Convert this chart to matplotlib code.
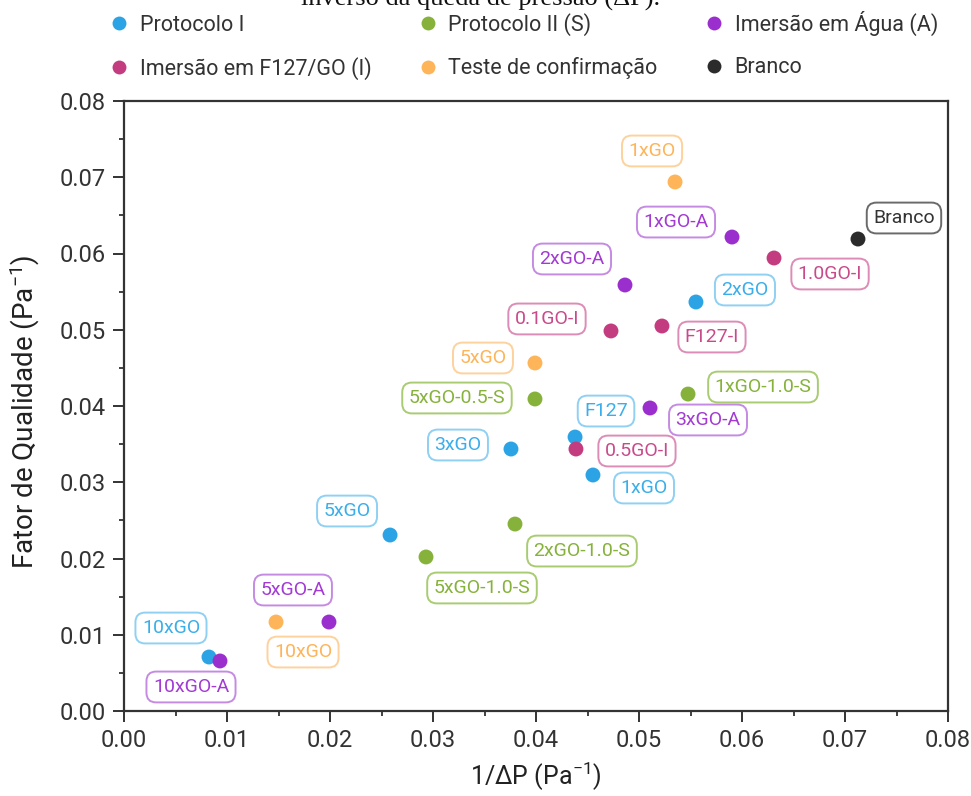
import matplotlib
matplotlib.use("Agg")
import matplotlib.pyplot as plt
from matplotlib.lines import Line2D

# ---- data: 1/ΔP (Pa^-1) vs quality factor (Pa^-1) ----
prot1_names = ["10xGO", "5xGO", "3xGO", "F127", "1xGO", "2xGO"]
prot1_x = [0.00825, 0.02583, 0.03757, 0.04379, 0.04553, 0.05553]
prot1_y = [0.00708, 0.02308, 0.03436, 0.03593, 0.03095, 0.05364]

prot2_names = ["5xGO-1.0-S", "2xGO-1.0-S", "5xGO-0.5-S", "1xGO-1.0-S"]
prot2_x = [0.02932, 0.03796, 0.03990, 0.05476]
prot2_y = [0.02020, 0.02452, 0.04092, 0.04157]

agua_names = ["10xGO-A", "5xGO-A", "3xGO-A", "2xGO-A", "1xGO-A"]
agua_x = [0.00932, 0.01990, 0.05107, 0.04864, 0.05903]
agua_y = [0.00656, 0.01167, 0.03974, 0.05587, 0.06216]

f127_names = ["0.5GO-I", "0.1GO-I", "F127-I", "1.0GO-I"]
f127_x = [0.04388, 0.04728, 0.05223, 0.06311]
f127_y = [0.03436, 0.04984, 0.05049, 0.05941]

conf_names = ["10xGO", "5xGO", "1xGO"]
conf_x = [0.01476, 0.03990, 0.05350]
conf_y = [0.01167, 0.04564, 0.06938]

branco_names = ["Branco"]
branco_x = [0.07126]
branco_y = [0.06190]

series_labels = ["Protocolo I", "Protocolo II (S)", "Imersão em Água (A)",
                 "Imersão em F127/GO (I)", "Teste de confirmação", "Branco"]

x_ticks = [0.00, 0.01, 0.02, 0.03, 0.04, 0.05, 0.06, 0.07, 0.08]
y_ticks = [0.00, 0.01, 0.02, 0.03, 0.04, 0.05, 0.06, 0.07, 0.08]

# ---- styling ----
# (marker colour, label text colour, label border colour)
styles = [
    ("#2ba3e4", "#3aaeea", "#8fd0f3"),
    ("#86b23c", "#86b23c", "#a9cc72"),
    ("#9a2fcd", "#a23ad3", "#c58be3"),
    ("#c43c80", "#c94a8a", "#dc8cb6"),
    ("#feb459", "#feb459", "#fdd29d"),
    ("#2b2b2b", "#333333", "#6a6a6a"),
]

# label offsets in pixels (dx right, dy up) for each series
offsets = [
    [(-38, 29), (-43, 24), (-53, 4), (31, 26), (51, -13), (49, 12)],
    [(56, -31), (67, -27), (-78, 1), (75, 7)],
    [(-29, -26), (-36, 32), (58, -12), (-53, 26), (-56, 15)],
    [(61, -2), (-64, 12), (50, -11), (56, -16)],
    [(27, -30), (-52, 5), (-23, 31)],
    [(46, 21)],
]

plt.rcParams["font.family"] = ["Roboto", "DejaVu Sans"]
plt.rcParams["mathtext.fontset"] = "custom"
plt.rcParams["mathtext.rm"] = "Roboto"
plt.rcParams["mathtext.it"] = "Roboto"
plt.rcParams["axes.edgecolor"] = "#333333"
plt.rcParams["xtick.color"] = "#333333"
plt.rcParams["ytick.color"] = "#333333"

W, H = 971, 796
fig = plt.figure(figsize=(W / 100, H / 100), dpi=100)
ax = fig.add_axes([124 / W, 1 - 711 / H, (948 - 124) / W, (711 - 101) / H])

all_series = [
    (prot1_names, prot1_x, prot1_y),
    (prot2_names, prot2_x, prot2_y),
    (agua_names, agua_x, agua_y),
    (f127_names, f127_x, f127_y),
    (conf_names, conf_x, conf_y),
    (branco_names, branco_x, branco_y),
]

for (names, xs, ys), (mc, tc, bc), offs in zip(all_series, styles, offsets):
    ax.scatter(xs, ys, s=115, color=mc, edgecolors="none", zorder=3)
    for name, x, y, (dx, dy) in zip(names, xs, ys, offs):
        ax.annotate(name, (x, y), xytext=(dx, dy), textcoords="offset pixels",
                    ha="center", va="center", fontsize=14, color=tc,
                    bbox=dict(boxstyle="round,pad=0.33,rounding_size=0.5",
                              fc="white", ec=bc, lw=1.4),
                    zorder=4)

ax.set_xlim(0, 0.08)
ax.set_ylim(0, 0.08)
ax.set_xticks(x_ticks)
ax.set_yticks(y_ticks)
ax.set_xticklabels([f"{v:.2f}" for v in x_ticks])
ax.set_yticklabels([f"{v:.2f}" for v in y_ticks])
ax.set_xticks([v + 0.005 for v in x_ticks[:-1]], minor=True)
ax.set_yticks([v + 0.005 for v in y_ticks[:-1]], minor=True)
ax.tick_params(which="major", direction="out", length=8, width=1.4,
               labelsize=17, labelcolor="#333333", pad=5)
ax.tick_params(which="minor", direction="out", length=3.5, width=1.3)
for sp in ax.spines.values():
    sp.set_linewidth(1.6)

ax.set_xlabel("1/ΔP (Pa$^{-1}$)", fontsize=18, color="#222222", labelpad=6)
ax.set_ylabel("Fator de Qualidade (Pa$^{-1}$)", fontsize=20, color="#222222")
ax.yaxis.set_label_coords(-0.0995, 0.49)

# legend above the axes: three columns, two rows
handles = [Line2D([], [], ls="none", marker="o", ms=10, mfc=c[0], mec="none") for c in styles]
order = [0, 3, 1, 4, 2, 5]
fig.legend([handles[i] for i in order], [series_labels[i] for i in order],
           ncol=3, loc="upper left", bbox_to_anchor=(100 / W, 1 - 2 / H),
           frameon=False, fontsize=15.5, labelcolor="#333333",
           handletextpad=0.45, columnspacing=2.12, labelspacing=1.0,
           handlelength=1.0, borderaxespad=0)

fig.text(0.495, 1 - 6 / H, "inverso da queda de pressão (ΔP).",
         family="Liberation Serif", fontsize=19, ha="center", va="baseline",
         color="#111111")

fig.savefig("out.png", dpi=100, facecolor="white")
